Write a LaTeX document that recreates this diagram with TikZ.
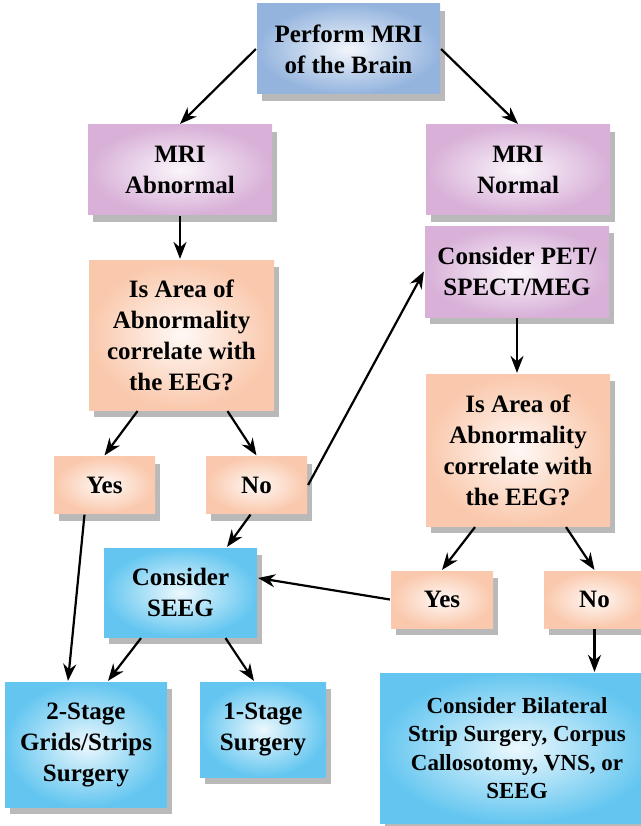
\documentclass[tikz,border=0pt]{standalone}
\usepackage{fontspec}
\setmainfont{Liberation Serif}
\usetikzlibrary{shadows,arrows.meta}

\definecolor{mriblue}{RGB}{148,180,222}
\definecolor{mripurple}{RGB}{216,176,216}
\definecolor{mripeach}{RGB}{250,200,172}
\definecolor{mricyan}{RGB}{100,198,240}

\begin{document}
\begin{tikzpicture}[%
        x = 1pt,
        y = -1pt,
        line width = 2.2pt,
        > = {Stealth[length = 17pt, width = 13pt]},
        box/.style = {%
            rectangle,
            inner sep = 0pt,
            align = center,
            font = \bfseries\fontsize{25}{31}\selectfont,
            drop shadow = {%
                shadow xshift = 5pt,
                shadow yshift = -7pt,
                opacity = 0.55
            }
        },
        bluebox/.style = {%
            box,
            inner color = mriblue!12,
            outer color = mriblue
        },
        purplebox/.style = {%
            box,
            inner color = mripurple!12,
            outer color = mripurple
        },
        peachbox/.style = {%
            box,
            inner color = mripeach!12,
            outer color = mripeach
        },
        cyanbox/.style = {%
            box,
            inner color = mricyan!12,
            outer color = mricyan
        }
    ]

        % Fix the page to the size of the picture.
        \useasboundingbox (0, 0) rectangle (640, 826);

        % Top of the chart.
        \node[bluebox, minimum width = 183pt, minimum height = 90pt]
            (perform) at (348.5, 49) {Perform MRI\\of the Brain};
        \node[purplebox, minimum width = 184pt, minimum height = 90pt]
            (abnormal) at (180, 170) {MRI\\Abnormal};
        \node[purplebox, minimum width = 184pt, minimum height = 90pt]
            (normal) at (518, 170) {MRI\\Normal};
        \node[purplebox, minimum width = 184pt, minimum height = 91pt]
            (pet) at (517, 271.5) {Consider PET/\\SPECT/MEG};

        % The two questions about the EEG.
        \node[peachbox, minimum width = 185pt, minimum height = 150pt]
            (arealeft) at (181.5, 335) {Is Area of\\Abnormality\\correlate with\\the EEG?};
        \node[peachbox, minimum width = 184pt, minimum height = 152pt]
            (arearight) at (518, 450) {Is Area of\\Abnormality\\correlate with\\the EEG?};

        % Answers.
        \node[peachbox, minimum width = 101pt, minimum height = 57pt]
            (yesleft) at (104.5, 485) {Yes};
        \node[peachbox, minimum width = 101pt, minimum height = 57pt]
            (noleft) at (256.5, 485) {No};
        \node[peachbox, minimum width = 102pt, minimum height = 57pt]
            (yesright) at (442, 599.5) {Yes};
        \node[peachbox, minimum width = 101pt, minimum height = 57pt]
            (noright) at (594.5, 599.5) {No};

        % Surgery boxes.
        \node[cyanbox, minimum width = 153pt, minimum height = 89pt]
            (seeg) at (180.5, 592.5) {Consider\\SEEG};
        \node[cyanbox, minimum width = 162pt, minimum height = 125pt]
            (twostage) at (86, 744.5) {2-Stage\\Grids/Strips\\Surgery};
        \node[cyanbox, minimum width = 126pt, minimum height = 95pt]
            (onestage) at (263, 729.5) {1-Stage\\Surgery};
        \node[cyanbox, minimum width = 274pt, minimum height = 150pt,
            font = \bfseries\fontsize{23}{28.5}\selectfont]
            (bilateral) at (517, 748)
            {Consider Bilateral\\Strip Surgery, Corpus\\Callosotomy, VNS, or\\SEEG};

        % Arrows.
        \draw[->] (perform.west) to (abnormal.north);
        \draw[->] (perform.east) to (normal.north);
        \draw[->] (abnormal.south) to (abnormal.south |- arealeft.north);
        \draw[->] (pet.south) to (pet.south |- arearight.north);
        \draw[->] ([xshift = -44pt] arealeft.south) to (yesleft.north);
        \draw[->] ([xshift = 46pt] arealeft.south) to (noleft.north);
        \draw[->] (noleft.east) to (pet.west);
        \draw[->] ([xshift = -20pt] yesleft.south) to ([xshift = -18pt] twostage.north);
        \draw[->] ([xshift = -6pt] noleft.south) to ([xshift = 46.5pt] seeg.north);
        \draw[->] ([xshift = -43pt] arearight.south) to (yesright.north);
        \draw[->] ([xshift = 48pt] arearight.south) to (noright.north);
        \draw[->] (yesright.west) to ([yshift = 14.5pt] seeg.east);
        \draw[->] ([xshift = -39.5pt] seeg.south) to ([xshift = 22pt] twostage.north);
        \draw[->] ([xshift = 45pt] seeg.south) to ([xshift = -9pt] onestage.north);
        \draw[->] (noright.south) to (noright.south |- bilateral.north);
    \end{tikzpicture}
\end{document}
